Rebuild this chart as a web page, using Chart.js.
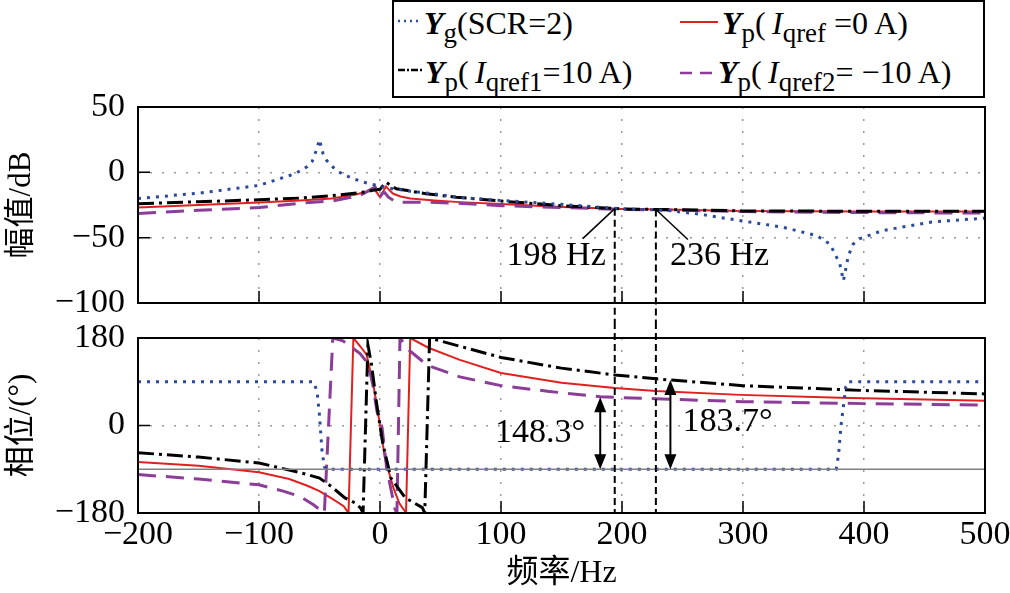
<!DOCTYPE html>
<html>
<head>
<meta charset="utf-8">
<script src="https://cdn.jsdelivr.net/npm/chart.js@4.4.0/dist/chart.umd.min.js"></script>
<style>
  body { margin: 0; background: #fff; width: 1010px; height: 593px; overflow: hidden; position: relative;
         font-family: 'Liberation Serif', 'Noto Sans CJK SC', serif; }
  canvas { position: absolute; left: 0; }
  #cMag { top: 0; }
  #cPh { top: 322px; }
  #legendBox { position: absolute; left: 392px; top: 0; width: 593px; height: 98px; border: 2px solid #000;
               box-sizing: border-box; background: #fff; }
  .it { position: absolute; font-size: 32px; line-height: 40px; white-space: nowrap; color: #000; }
  .sw { position: absolute; }
  .Y { font-weight: bold; font-style: italic; }
  .I { font-style: italic; margin-left: 0.2em; }
  .s { font-size: 0.84em; position: relative; top: 0.28em; }
</style>
</head>
<body>
<canvas id="cMag" width="1010" height="322"></canvas>
<canvas id="cPh" width="1010" height="271"></canvas>

<div id="legendBox"></div>
<svg class="sw" style="left:398px;top:17px" width="24" height="8"><line x1="0" y1="4" x2="24" y2="4" stroke="#2b4a9a" stroke-width="2.5" stroke-dasharray="2,4"/></svg>
<div class="it" style="left:424px;top:3px"><span class="Y">Y</span><span class="s">g</span>(SCR=2)</div>
<svg class="sw" style="left:680px;top:18px" width="38" height="8"><line x1="0" y1="4" x2="38" y2="4" stroke="#e0201f" stroke-width="2"/></svg>
<div class="it" style="left:722px;top:3px"><span class="Y">Y</span><span class="s">p</span>(<span class="I">I</span><span class="s">qref</span> =0 A)</div>
<svg class="sw" style="left:398px;top:66px" width="25" height="8"><line x1="0" y1="4" x2="25" y2="4" stroke="#000" stroke-width="2.5" stroke-dasharray="7,2,2,2"/></svg>
<div class="it" style="left:425px;top:52px"><span class="Y">Y</span><span class="s">p</span>(<span class="I">I</span><span class="s">qref1</span>=10 A)</div>
<svg class="sw" style="left:680px;top:69px" width="34" height="8"><line x1="0" y1="4" x2="34" y2="4" stroke="#8b3d98" stroke-width="2.5" stroke-dasharray="12,8"/></svg>
<div class="it" style="left:718px;top:52px"><span class="Y">Y</span><span class="s">p</span>(<span class="I">I</span><span class="s">qref2</span>= −10 A)</div>

<script>
// ---- magnitude (dB) ----
const ygMagF = [-200, -150, -100, -80, -70, -60, -56, -53, -50, -47, -44, -40, -36, -29, -20, -14, -5, 0, 10, 25, 44, 63, 100, 150, 200, 236, 264, 298, 333, 361, 372, 380, 383, 387, 391, 396, 415, 456, 500];
const ygMag  = [-20, -16, -10, -4, -1, 4.5, 8.5, 16, 25, 14, 9, 5, 1.5, -2.3, -5.5, -7.4, -9.5, -10.8, -12.5, -14.4, -16.4, -19, -21.5, -24.5, -28, -29, -32, -37, -42, -48.5, -55, -70, -83, -64, -55, -51, -44.6, -38, -35];

const p0MagF = [-200, -150, -100, -66, -40, -20, -12, -6, -3, 0, 3, 5, 8, 11, 17, 25, 45, 66, 100, 150, 200, 236, 300, 400, 500];
const p0Mag  = [-27, -25, -23, -21.5, -20, -17, -15, -12, -15, -19, -14, -10.8, -14, -16.4, -18.5, -20, -21.5, -22.8, -24.3, -26.5, -28, -28.5, -29.5, -30, -30];

const p1MagF = [-200, -150, -100, -66, -40, -12, -5, 0, 3, 5, 8, 13.5, 20, 38, 63, 100, 150, 200, 236, 300, 400, 500];
const p1Mag  = [-24, -22.5, -21, -19.7, -17.9, -15, -13.5, -13, -9.5, -7.6, -9.5, -12.6, -13.5, -16.4, -19, -22, -25.5, -28, -28.5, -29.5, -29.8, -29.8];

const p2MagF = [-200, -150, -100, -66, -40, -16.5, -8, -4, -2, 0, 2, 4, 7, 13.5, 38, 63, 100, 150, 200, 236, 300, 400, 500];
const p2Mag  = [-31.5, -29, -27, -23.6, -22, -17.7, -13.5, -11.3, -14, -19, -16, -15.6, -19, -22.8, -22.8, -23.6, -25.5, -27, -28.3, -28.8, -30, -30.8, -31.2];

// ---- phase (deg) ----
const ygPhF = [-200, -55, -52, -50, -48, -46, -44, 377, 379, 381, 383, 385, 387, 500];
const ygPh  = [90, 90, 70, 20, -50, -85, -90, -90, -60, 0, 40, 80, 90, 90];

const p0PhF = [-200, -150, -100, -75, -60, -50, -40, -30, -26, -22, -16, -11, -5.5, 0, 4, 11, 16, 20.7, 21.5, 25, 40, 66, 100, 150, 194, 228, 298, 380, 500];
const p0Ph  = [-75, -83, -96, -110, -124, -135, -150, -166, -180, 180, 162, 145, 84, 1, -66, -128, -160, -177, -180, 180, 160, 135, 108, 88, 77, 71, 63, 57, 51];

const p1PhF = [-200, -150, -100, -66, -50, -40, -29, -20, -16, -14, -10, -7, -3, 2, 9, 21, 35, 37, 41, 66, 100, 150, 194, 228, 300, 400, 500];
const p1Ph  = [-56, -65, -77, -97, -108, -126, -149, -160, -170, -180, 166, 125, 49, -33, -108, -149, -169, -180, 180, 163, 140, 118, 104, 96, 82, 72, 65];

const p2PhF = [-200, -150, -100, -80, -66, -55, -46, -39, -30.6, -16.5, -10, -6, -2.5, 1.7, 5.5, 12.4, 14, 16.5, 24, 39, 66, 100, 140, 182, 228, 300, 400, 500];
const p2Ph  = [-101, -110, -122, -135, -146, -163, -180, 180, 174, 148, 128, 85, 29, -4, -88, -172, -180, 180, 155, 124, 100, 82, 70, 59, 55, 49, 45, 42];

const refLineF = [-200, 500];
const refLine = [-90, -90];

// ---- annotations ----
const markFreq = [194, 228];
const markMag = [-27.8, -28.4];
const markLabel = ['198 Hz', '236 Hz'];
const arrowFreq = [182, 240];
const arrowTop = [58.3, 93.7];
const arrowLabel = ['148.3°', '183.7°'];

const xTicks = [-200, -100, 0, 100, 200, 300, 400, 500];
const magTicks = [-100, -50, 0, 50];
const phTicks = [-180, -90, 0, 90, 180];

const pts = (f, v) => f.map((x, i) => ({ x, y: v[i] }));
const minus = v => String(v).replace('-', '\u2212');
const serif = '"Liberation Serif", "Noto Sans CJK SC", serif';

const series = (label, f, v, color, width, dash) => ({
    label, data: pts(f, v), borderColor: color, borderWidth: width,
    borderDash: dash, pointRadius: 0, tension: 0, fill: false
});

// Box round the plot area and short ticks pointing inward
const frame = {
    id: 'frame',
    afterDatasetsDraw(chart) {
        const { ctx, chartArea: a, scales: { x, y } } = chart;
        ctx.save();
        ctx.strokeStyle = '#000';
        ctx.lineWidth = 2;
        ctx.strokeRect(a.left, a.top, a.right - a.left, a.bottom - a.top);
        ctx.lineWidth = 1.5;
        ctx.beginPath();
        x.ticks.forEach(t => {
            if (t.value === x.min || t.value === x.max) return;
            const px = x.getPixelForValue(t.value);
            ctx.moveTo(px, a.bottom); ctx.lineTo(px, a.bottom - 12);
        });
        y.ticks.forEach(t => {
            if (t.value === y.min || t.value === y.max) return;
            const py = y.getPixelForValue(t.value);
            ctx.moveTo(a.left, py); ctx.lineTo(a.left + 12, py);
        });
        ctx.stroke();
        ctx.restore();
    }
};

const magMarks = {
    id: 'magMarks',
    afterDraw(chart) {
        const { ctx, scales: { x, y } } = chart;
        ctx.save();
        ctx.strokeStyle = '#000';
        ctx.fillStyle = '#000';
        ctx.font = '34px ' + serif;
        ctx.textBaseline = 'middle';
        markFreq.forEach((f, i) => {
            const px = x.getPixelForValue(f), py = y.getPixelForValue(markMag[i]);
            ctx.lineWidth = 2;
            ctx.setLineDash([7, 4]);
            ctx.beginPath(); ctx.moveTo(px, py); ctx.lineTo(px, chart.height); ctx.stroke();
            ctx.setLineDash([]);
            ctx.lineWidth = 1.5;
            const dir = i === 0 ? -1 : 1;
            ctx.beginPath(); ctx.moveTo(px, py); ctx.lineTo(px + dir * 32, py + 30); ctx.stroke();
            ctx.textAlign = dir < 0 ? 'right' : 'left';
            ctx.fillText(markLabel[i], px + dir * (i === 0 ? 9 : 14), py + 47);
        });
        ctx.restore();
    }
};

const phMarks = {
    id: 'phMarks',
    afterDraw(chart) {
        const { ctx, chartArea: a, scales: { x, y } } = chart;
        ctx.save();
        ctx.strokeStyle = '#000';
        ctx.fillStyle = '#000';
        ctx.lineWidth = 2;
        ctx.setLineDash([7, 4]);
        markFreq.forEach(f => {
            const px = x.getPixelForValue(f);
            ctx.beginPath(); ctx.moveTo(px, 0); ctx.lineTo(px, a.bottom); ctx.stroke();
        });
        ctx.setLineDash([]);
        ctx.font = '34px ' + serif;
        ctx.textBaseline = 'middle';
        arrowFreq.forEach((f, i) => {
            const px = x.getPixelForValue(f);
            const y1 = y.getPixelForValue(arrowTop[i]), y2 = y.getPixelForValue(-90);
            ctx.beginPath(); ctx.moveTo(px, y1 + 4); ctx.lineTo(px, y2 - 4); ctx.stroke();
            ctx.beginPath();
            ctx.moveTo(px, y1); ctx.lineTo(px - 6, y1 + 15); ctx.lineTo(px + 6, y1 + 15); ctx.closePath();
            ctx.moveTo(px, y2); ctx.lineTo(px - 6, y2 - 15); ctx.lineTo(px + 6, y2 - 15); ctx.closePath();
            ctx.fill();
            const ym = (y1 + y2) / 2;
            if (i === 0) { ctx.textAlign = 'right'; ctx.fillText(arrowLabel[i], px - 15, ym); }
            else { ctx.textAlign = 'left'; ctx.fillText(arrowLabel[i], px + 12, ym - 3); }
        });
        ctx.restore();
    }
};

const gridColor = ctx => {
    const s = ctx.scale;
    if (!ctx.tick || ctx.tick.value === s.min || ctx.tick.value === s.max) return 'rgba(0,0,0,0)';
    return '#9a9a9a';
};

const xScale = (showLabels) => ({
    type: 'linear', min: -200, max: 500,
    afterBuildTicks: s => { s.ticks = xTicks.map(v => ({ value: v })); },
    grid: { color: gridColor, lineWidth: 1.5, drawTicks: false },
    border: { display: false, dash: [2, 10] },
    ticks: { display: showLabels, padding: 2, color: '#000', font: { family: serif, size: 34 }, callback: minus },
    title: {
        display: showLabels, text: '频率/Hz', color: '#000',
        font: { family: serif, size: 32 }, padding: { top: 0, bottom: 0 }
    },
    afterFit: s => { s.height = showLabels ? 80 : 0; s.paddingLeft = 0; s.paddingRight = 0; }
});

const yScale = (min, max, ticks, title) => ({
    min, max,
    afterBuildTicks: s => { s.ticks = ticks.map(v => ({ value: v })); },
    grid: { color: gridColor, lineWidth: 1.5, drawTicks: false },
    border: { display: false, dash: [2, 10] },
    ticks: { padding: 13, color: '#000', font: { family: serif, size: 34 }, callback: minus },
    title: { display: true, text: title, color: '#000', font: { family: serif, size: 31 }, padding: { top: 3, bottom: 0 } },
    afterFit: s => { s.width = 138; s.paddingTop = 0; s.paddingBottom = 0; }
});

const baseOptions = (yOpts, showX, pad) => ({
    responsive: false,
    animation: false,
    layout: { padding: pad },
    plugins: { legend: { display: false }, tooltip: { enabled: false } },
    scales: { x: xScale(showX), y: yOpts }
});

function draw() {
    new Chart(document.getElementById('cMag'), {
        type: 'line',
        data: {
            datasets: [
                series('Yg', ygMagF, ygMag, '#2b4a9a', 3, [3, 6]),
                series('Yp1', p1MagF, p1Mag, '#000000', 3, [16, 5, 3, 5]),
                series('Yp2', p2MagF, p2Mag, '#8b3d98', 3, [18, 10]),
                series('Yp0', p0MagF, p0Mag, '#e0201f', 2, [])
            ]
        },
        options: baseOptions(yScale(-100, 50, magTicks, '幅值/dB'), false, { top: 107, right: 25, bottom: 19, left: 0 }),
        plugins: [frame, magMarks]
    });

    new Chart(document.getElementById('cPh'), {
        type: 'line',
        data: {
            datasets: [
                series('ref', refLineF, refLine, '#808080', 1.5, []),
                series('Yg', ygPhF, ygPh, '#2b4a9a', 3, [3, 6]),
                series('Yp1', p1PhF, p1Ph, '#000000', 3, [16, 5, 3, 5]),
                series('Yp2', p2PhF, p2Ph, '#8b3d98', 3, [18, 10]),
                series('Yp0', p0PhF, p0Ph, '#e0201f', 2, [])
            ]
        },
        options: baseOptions(yScale(-180, 180, phTicks, '相位/(°)'), true, { top: 16, right: 25, bottom: 0, left: 0 }),
        plugins: [frame, phMarks]
    });
}

Promise.all([
    document.fonts.load('34px "Liberation Serif"'),
    document.fonts.load('32px "Noto Sans CJK SC"', '幅值相位频率')
]).then(draw, draw);
</script>
</body>
</html>
